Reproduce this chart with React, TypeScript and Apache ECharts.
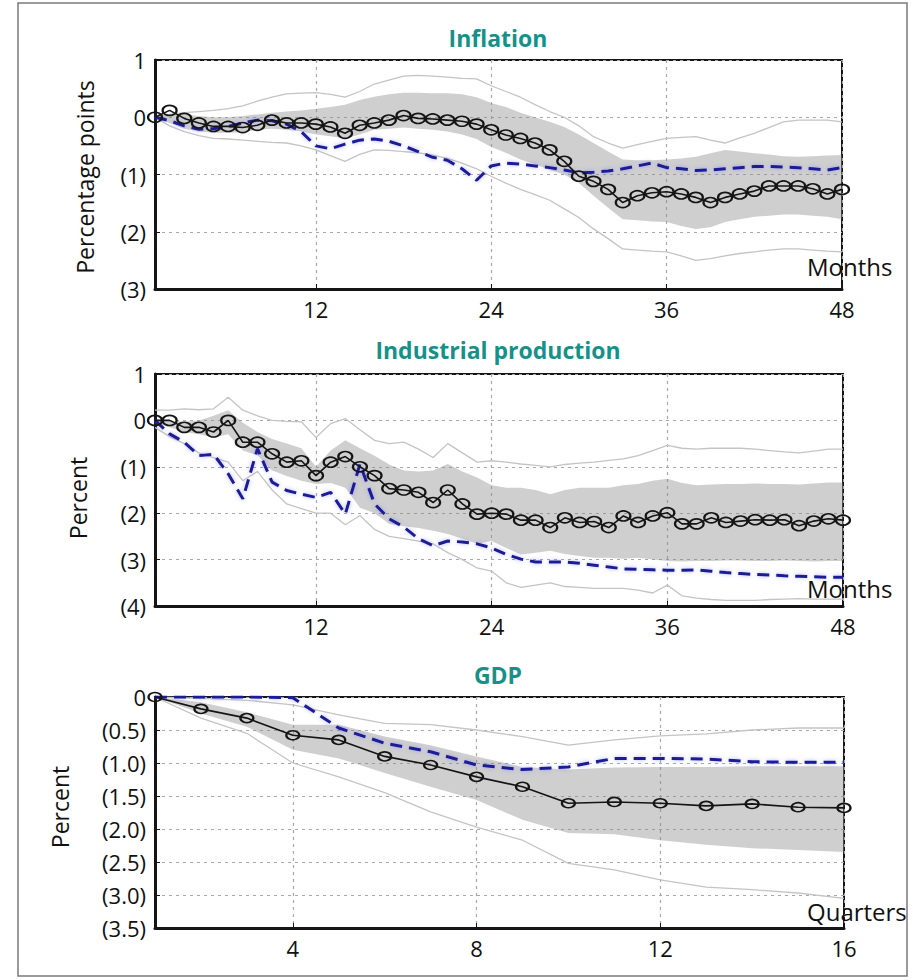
import React, { useEffect, useRef } from "react";
import * as echarts from "echarts";

// ---------- DATA ----------
const months = Array.from({ length: 48 }, (_, i) => i + 1);
const quarters = Array.from({ length: 16 }, (_, i) => i + 1);

const monthTicks = [12, 24, 36, 48];
const quarterTicks = [4, 8, 12, 16];

// Inflation (percentage points)
const infMedian = [0, 0.12, -0.02, -0.1, -0.16, -0.16, -0.18, -0.14, -0.05, -0.1, -0.1, -0.12, -0.17, -0.28, -0.14, -0.1, -0.05, 0.03, -0.02, -0.03, -0.05, -0.07, -0.12, -0.22, -0.31, -0.37, -0.45, -0.57, -0.77, -1.03, -1.12, -1.26, -1.49, -1.37, -1.32, -1.3, -1.34, -1.4, -1.49, -1.4, -1.34, -1.29, -1.2, -1.2, -1.2, -1.25, -1.34, -1.26];
const infAlt = [0, -0.06, -0.15, -0.21, -0.2, -0.16, -0.1, -0.05, -0.06, -0.12, -0.25, -0.5, -0.55, -0.47, -0.4, -0.38, -0.42, -0.5, -0.6, -0.7, -0.75, -0.9, -1.1, -0.85, -0.8, -0.82, -0.85, -0.88, -0.92, -0.97, -0.96, -0.94, -0.9, -0.85, -0.8, -0.88, -0.9, -0.93, -0.92, -0.9, -0.88, -0.86, -0.86, -0.87, -0.88, -0.9, -0.92, -0.88];
const infBandHi = [0, 0.05, 0.05, 0.02, 0, 0, 0.02, 0.05, 0.08, 0.1, 0.12, 0.15, 0.18, 0.22, 0.3, 0.36, 0.4, 0.43, 0.43, 0.42, 0.42, 0.4, 0.35, 0.25, 0.18, 0.08, 0, -0.08, -0.17, -0.3, -0.45, -0.6, -0.74, -0.75, -0.75, -0.74, -0.72, -0.69, -0.63, -0.57, -0.6, -0.63, -0.65, -0.68, -0.69, -0.68, -0.67, -0.66];
const infBandLo = [0, -0.1, -0.2, -0.25, -0.27, -0.27, -0.26, -0.22, -0.2, -0.22, -0.25, -0.3, -0.33, -0.37, -0.3, -0.22, -0.2, -0.18, -0.2, -0.22, -0.25, -0.3, -0.38, -0.52, -0.62, -0.74, -0.82, -0.92, -1.0, -1.15, -1.37, -1.58, -1.78, -1.8, -1.82, -1.83, -1.9, -1.95, -1.92, -1.83, -1.78, -1.74, -1.72, -1.7, -1.7, -1.72, -1.74, -1.78];
const infOuterHi = [0, 0.05, 0.08, 0.1, 0.12, 0.15, 0.2, 0.28, 0.35, 0.41, 0.42, 0.43, 0.4, 0.35, 0.45, 0.58, 0.65, 0.72, 0.73, 0.72, 0.7, 0.68, 0.67, 0.55, 0.45, 0.35, 0.22, 0.1, 0, -0.15, -0.34, -0.45, -0.54, -0.48, -0.42, -0.37, -0.35, -0.34, -0.4, -0.45, -0.36, -0.28, -0.18, -0.08, -0.05, -0.05, -0.05, -0.08];
const infOuterLo = [0, -0.15, -0.25, -0.32, -0.37, -0.38, -0.4, -0.42, -0.44, -0.45, -0.5, -0.57, -0.67, -0.77, -0.65, -0.57, -0.58, -0.6, -0.62, -0.66, -0.72, -0.8, -0.9, -1.03, -1.15, -1.26, -1.35, -1.45, -1.6, -1.75, -1.95, -2.12, -2.3, -2.32, -2.34, -2.35, -2.42, -2.5, -2.47, -2.42, -2.38, -2.35, -2.32, -2.3, -2.3, -2.32, -2.34, -2.35];

// Industrial production (percent)
const ipMedian = [0, 0, -0.15, -0.15, -0.25, 0, -0.47, -0.47, -0.72, -0.9, -0.87, -1.19, -0.9, -0.78, -1.0, -1.19, -1.47, -1.5, -1.55, -1.77, -1.5, -1.8, -2.02, -2.0, -2.02, -2.15, -2.15, -2.31, -2.1, -2.2, -2.18, -2.31, -2.06, -2.2, -2.06, -1.99, -2.23, -2.23, -2.1, -2.2, -2.17, -2.14, -2.15, -2.14, -2.27, -2.17, -2.12, -2.15];
const ipAlt = [0, -0.29, -0.47, -0.76, -0.73, -1.15, -1.69, -0.61, -1.33, -1.51, -1.59, -1.66, -1.55, -2.02, -0.94, -1.8, -2.12, -2.3, -2.55, -2.7, -2.6, -2.62, -2.66, -2.75, -2.89, -2.99, -3.05, -3.05, -3.05, -3.08, -3.12, -3.16, -3.2, -3.21, -3.22, -3.23, -3.23, -3.22, -3.25, -3.28, -3.3, -3.32, -3.33, -3.35, -3.36, -3.37, -3.38, -3.38];
const ipBandHi = [0, 0, -0.03, 0, 0.1, 0.22, -0.05, -0.25, -0.4, -0.5, -0.6, -1.0, -0.65, -0.43, -0.6, -0.76, -0.95, -1.08, -1.1, -1.08, -0.94, -1.1, -1.23, -1.4, -1.45, -1.45, -1.5, -1.59, -1.5, -1.45, -1.45, -1.45, -1.4, -1.37, -1.3, -1.26, -1.35, -1.4, -1.38, -1.37, -1.37, -1.36, -1.37, -1.37, -1.38, -1.36, -1.34, -1.34];
const ipBandLo = [-0.05, -0.15, -0.25, -0.3, -0.37, -0.3, -0.65, -0.75, -1.08, -1.2, -1.3, -1.37, -1.35, -1.45, -1.88, -2.0, -2.23, -2.28, -2.32, -2.38, -2.45, -2.55, -2.66, -2.6, -2.75, -2.89, -2.85, -2.81, -2.88, -2.92, -2.96, -2.96, -2.98, -2.96, -3.0, -3.03, -3.04, -3.03, -3.03, -3.02, -3.02, -3.03, -3.03, -3.02, -3.03, -3.04, -3.03, -3.03];
const ipOuterHi = [0.22, 0.22, 0.25, 0.23, 0.25, 0.5, 0.22, 0.1, 0, -0.02, -0.03, -0.37, -0.07, 0.04, -0.2, -0.43, -0.5, -0.47, -0.62, -0.8, -0.5, -0.7, -0.9, -0.87, -0.9, -0.94, -0.97, -1.0, -0.95, -0.92, -0.9, -0.86, -0.83, -0.76, -0.65, -0.54, -0.6, -0.62, -0.6, -0.6, -0.6, -0.62, -0.65, -0.68, -0.7, -0.66, -0.62, -0.62];
const ipOuterLo = [-0.15, -0.35, -0.5, -0.7, -0.8, -0.9, -1.3, -1.1, -1.5, -1.8, -1.9, -2.0, -2.0, -2.25, -2.05, -2.35, -2.5, -2.55, -2.6, -2.66, -2.85, -3.0, -3.18, -3.25, -3.5, -3.6, -3.55, -3.5, -3.58, -3.6, -3.62, -3.62, -3.62, -3.66, -3.72, -3.55, -3.78, -3.83, -3.86, -3.88, -3.88, -3.88, -3.86, -3.85, -3.84, -3.85, -3.85, -3.85];

// GDP (percent)
const gdpMedian = [0, -0.18, -0.32, -0.58, -0.65, -0.9, -1.03, -1.21, -1.36, -1.61, -1.59, -1.61, -1.65, -1.62, -1.67, -1.68];
const gdpAlt = [0, 0, 0, -0.01, -0.47, -0.7, -0.83, -1.03, -1.1, -1.06, -0.93, -0.93, -0.94, -0.98, -0.99, -0.99];
const gdpBandHi = [0, -0.08, -0.23, -0.42, -0.42, -0.6, -0.73, -0.9, -1.06, -1.1, -1.07, -1.06, -1.06, -1.05, -1.05, -1.05];
const gdpBandLo = [0, -0.25, -0.45, -0.8, -0.93, -1.15, -1.36, -1.56, -1.86, -2.06, -2.08, -2.17, -2.24, -2.29, -2.32, -2.35];
const gdpOuterHi = [0, -0.02, -0.05, -0.12, -0.27, -0.4, -0.42, -0.5, -0.6, -0.73, -0.65, -0.59, -0.56, -0.5, -0.47, -0.47];
const gdpOuterLo = [0, -0.32, -0.55, -1.0, -1.21, -1.45, -1.74, -1.97, -2.17, -2.52, -2.62, -2.77, -2.88, -2.92, -2.97, -3.05];

// ---------- STYLE ----------
const FONT = "'Open Sans', 'Noto Sans', sans-serif";
const TEAL = "#16918a";
const BAND = "rgba(140,140,140,0.42)";
const OUTER = "#c4c4c4";
const BLUE = "#1b1b96";
const BLACK = "#151515";
const GRIDLINE = { color: "#a8a8a8", type: [3, 4], width: 1.2 };

const pairs = (xs: number[], ys: number[]) => xs.map((x, i) => [x, ys[i]]);

function panelSeries(idx: number, xs: number[], lo: number[], hi: number[], oLo: number[], oHi: number[], alt: number[], med: number[], sym: number[]) {
  const common = { xAxisIndex: idx, yAxisIndex: idx, symbol: "none", silent: true };
  return [
    {
      type: "custom",
      xAxisIndex: idx,
      yAxisIndex: idx,
      silent: true,
      name: "band" + idx,
      data: xs.map((x, i) => [x, lo[i], hi[i]]),
      encode: { x: 0, y: [1, 2] },
      renderItem: (params: any, api: any) => {
        if (params.dataIndex !== 0) return null;
        const top = xs.map((x, i) => api.coord([x, hi[i]]));
        const bottom = xs.map((x, i) => api.coord([x, lo[i]])).reverse();
        return { type: "polygon", shape: { points: [...top, ...bottom] }, style: { fill: BAND, stroke: "none" } };
      },
      z: 1,
    },
    { ...common, type: "line", name: "outerHi" + idx, data: pairs(xs, oHi), lineStyle: { color: OUTER, width: 1.3 }, z: 2 },
    { ...common, type: "line", name: "outerLo" + idx, data: pairs(xs, oLo), lineStyle: { color: OUTER, width: 1.3 }, z: 2 },
    { ...common, type: "line", name: "alt" + idx, data: pairs(xs, alt), lineStyle: { color: BLUE, width: 3, type: [12, 7], shadowColor: "rgba(90,90,255,0.45)", shadowBlur: 4 }, z: 3 },
    {
      ...common,
      type: "line",
      name: "median" + idx,
      data: pairs(xs, med),
      symbol: "circle",
      symbolSize: sym,
      showSymbol: true,
      lineStyle: { color: BLACK, width: 1.6 },
      itemStyle: { color: "rgba(0,0,0,0)", borderColor: BLACK, borderWidth: 1.9 },
      z: 4,
    },
  ];
}

const fmtInt = (v: number) => (v < 0 ? `(${-v})` : String(v));
const fmtDec = (v: number) => (v < 0 ? `(${(-v).toFixed(1)})` : String(v));

function xAxisCfg(idx: number, min: number, max: number, ticks: number[]) {
  return {
    type: "value",
    gridIndex: idx,
    min,
    max,
    axisLine: { show: true, onZero: false, lineStyle: { color: BLACK, width: 3 } },
    axisTick: { show: true, inside: true, length: 5, customValues: ticks, lineStyle: { color: BLACK } },
    axisLabel: { customValues: ticks, color: "#111", fontSize: 22, fontFamily: FONT, margin: 9 },
    splitLine: { show: true, lineStyle: GRIDLINE },
  };
}

function yAxisCfg(idx: number, min: number, max: number, interval: number, fmt: (v: number) => string) {
  return {
    type: "value",
    gridIndex: idx,
    min,
    max,
    interval,
    axisLine: { show: true, lineStyle: { color: BLACK, width: 3 } },
    axisTick: { show: true, inside: true, length: 5, lineStyle: { color: BLACK } },
    axisLabel: { formatter: fmt, color: "#111", fontSize: 22, fontFamily: FONT, margin: 9 },
    splitLine: { show: true, lineStyle: GRIDLINE },
  };
}

export default function App() {
  const ref = useRef<HTMLDivElement>(null);
  useEffect(() => {
    document.body.style.margin = "0";
    if (!ref.current) return;
    const chart = echarts.init(ref.current, null, { renderer: "svg" });
    const grids = [
      { left: 155, top: 60, width: 687, height: 229 },
      { left: 155, top: 374, width: 688, height: 232 },
      { left: 155, top: 697, width: 689, height: 231 },
    ].map((g) => ({ ...g, show: true, borderColor: BLACK, borderWidth: 2, backgroundColor: "#fff" }));

    const textStyle = (t: string, size: number, extra: any = {}) => ({
      text: t,
      fill: "#111",
      font: `${size}px ${FONT}`,
      textAlign: "center",
      textVerticalAlign: "middle",
      ...extra,
    });
    const titleStyle = (t: string) => textStyle(t, 23, { fill: TEAL, font: `bold 23px ${FONT}` });

    const option: any = {
      animation: false,
      backgroundColor: "#fff",
      grid: grids,
      xAxis: [
        xAxisCfg(0, 1, 48, monthTicks),
        xAxisCfg(1, 1, 48, monthTicks),
        xAxisCfg(2, 1, 16, quarterTicks),
      ],
      yAxis: [
        yAxisCfg(0, -3, 1, 1, fmtInt),
        yAxisCfg(1, -4, 1, 1, fmtInt),
        yAxisCfg(2, -3.5, 0, 0.5, fmtDec),
      ],
      series: [
        ...panelSeries(0, months, infBandLo, infBandHi, infOuterLo, infOuterHi, infAlt, infMedian, [14, 10]),
        ...panelSeries(1, months, ipBandLo, ipBandHi, ipOuterLo, ipOuterHi, ipAlt, ipMedian, [14, 10]),
        ...panelSeries(2, quarters, gdpBandLo, gdpBandHi, gdpOuterLo, gdpOuterHi, gdpAlt, gdpMedian, [13, 9]),
      ],
      graphic: [
        { type: "rect", shape: { x: 18, y: 3, width: 889, height: 973 }, style: { fill: "none", stroke: "#7a7a7a", lineWidth: 1.5 }, z: 100 },
        { type: "text", x: 498, y: 38, style: titleStyle("Inflation"), z: 100 },
        { type: "text", x: 498, y: 350, style: titleStyle("Industrial production"), z: 100 },
        { type: "text", x: 498, y: 675, style: titleStyle("GDP"), z: 100 },
        { type: "text", x: 85, y: 177, rotation: Math.PI / 2, style: textStyle("Percentage points", 23), z: 100 },
        { type: "text", x: 78, y: 498, rotation: Math.PI / 2, style: textStyle("Percent", 23), z: 100 },
        { type: "text", x: 60, y: 807, rotation: Math.PI / 2, style: textStyle("Percent", 23), z: 100 },
        { type: "text", x: 807, y: 266, style: textStyle("Months", 24, { textAlign: "left" }), z: 100 },
        { type: "text", x: 807, y: 588, style: textStyle("Months", 24, { textAlign: "left" }), z: 100 },
        { type: "text", x: 807, y: 911, style: textStyle("Quarters", 24, { textAlign: "left" }), z: 100 },
      ],
    };
    chart.setOption(option);
    return () => chart.dispose();
  }, []);
  return <div ref={ref} style={{ width: 913, height: 980 }} />;
}
